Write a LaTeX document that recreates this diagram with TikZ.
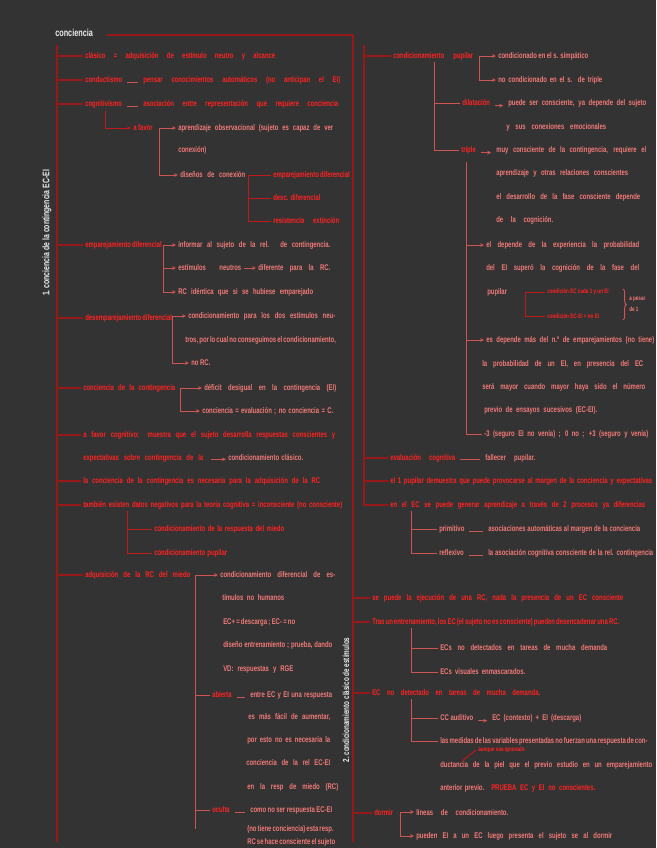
\documentclass[tikz,border=0pt]{standalone}
\usepackage{fontspec}
\usepackage{xcolor}
\usepackage{tikz}
\usetikzlibrary{calc,arrows.meta,positioning,decorations.pathreplacing}
\newfontfamily\handfont[FakeStretch=0.72]{Liberation Sans}
\definecolor{bgx}{HTML}{333333}
\definecolor{darkx}{HTML}{961818}
\definecolor{redx}{HTML}{FF2222}
\definecolor{pinkx}{HTML}{F27A78}
\definecolor{twigx}{HTML}{CC5452}
\definecolor{whitex}{HTML}{EEEEEE}
\newlength\px
\setlength\px{0.75pt}
\newcommand\fillw[2]{\makebox[#1\px][s]{#2}}
\tikzset{
  hd/.style={anchor=west,inner sep=1.5pt,font=\handfont\bfseries\fontsize{6.2}{7}\selectfont,text=redx},
  sb/.style={hd,text=pinkx},
  tl/.style={hd,text=whitex},
  tiny/.style={font=\handfont\bfseries\fontsize{4.8}{5}\selectfont},
  trunk/.style={darkx,line width=1pt},
  stem/.style={redx!75!black,line width=0.7pt},
  twig/.style={twigx,line width=0.7pt},
  ar/.style={-{Stealth[length=1.1mm,width=1mm]}},
  uline/.style={twig,shorten <=2pt,shorten >=2pt}
}
\begin{document}
\begin{tikzpicture}[x=0.75pt,y=-0.75pt]
\useasboundingbox (0,0) rectangle (656,848);
\fill[bgx] (0,0) rectangle (656,848);

\coordinate (tl) at (107,35);
\coordinate (dtop) at (353,35);
\coordinate (dbot) at (353,842);
\coordinate (ltop) at (57,45);
\coordinate (lbot) at (57,842);
\coordinate (rtop) at (364,45);
\node[tl,font=\handfont\bfseries\fontsize{7.6}{8}\selectfont] (title) at (53,33) {conciencia};
\node[tl,rotate=90,anchor=center,font=\handfont\bfseries\fontsize{7.2}{8}\selectfont] (vt1) at (47,233) {1.\ conciencia de la contingencia EC-EI};
\node[tl,rotate=90,anchor=center,font=\handfont\bfseries\fontsize{6.6}{8}\selectfont] (vt2) at (346,700) {2.\ condicionamiento clásico de estímulos};
\draw[trunk] (tl) -| (dbot);
\draw[trunk] (ltop) -- (lbot);

\node[hd] (clas) at (83,56) {\fillw{190}{clásico = adquisición de estímulo neutro y alcance}};
\node[hd] (cond) at (83,80) {conductismo};
\node[hd] (condT) at (141,80) {\fillw{197}{pensar conocimientos automáticos (no anticipan el EI)}};
\node[hd] (cogn) at (83,104) {cognitivismo};
\node[hd] (cognT) at (141,104) {\fillw{195}{asociación entre representación que requiere conciencia}};
\node[hd] (favor) at (131,128) {a favor};
\node[sb] (obs1) at (176,128) {\fillw{155}{aprendizaje observacional (sujeto es capaz de ver}};
\node[sb] (obs2) at (176,150) {conexión)};
\node[sb] (dise) at (178,175) {\fillw{65}{diseños de conexión}};
\node[hd] (dif) at (271,175) {\fillw{75}{emparejamiento diferencial}};
\node[hd] (desc) at (271,198) {\fillw{47}{desc. diferencial}};
\node[hd] (resi) at (271,221) {\fillw{66}{resistencia extinción}};
\coordinate (cg) at (105,111);
\draw[uline] ([yshift=-2pt]cond.east) -- ([yshift=-2pt]condT.west);
\draw[uline] ([yshift=-2pt]cogn.east) -- ([yshift=-2pt]cognT.west);
\draw[stem,ar] (cg) |- (favor.west);
\draw[twig,ar] ([xshift=3pt]favor.east) -- (obs1.west);
\draw[twig,ar] ([xshift=3pt]favor.east) |- (dise.west);
\foreach \n in {dif,desc,resi}
  \draw[stem] ([xshift=1pt]dise.east) |- (\n.west);

\node[hd] (emp) at (83,245) {\fillw{73}{emparejamiento diferencial}};
\node[sb] (empA) at (176,245) {\fillw{152}{informar al sujeto de la rel. de contingencia.}};
\node[sb] (empB) at (176,268) {\fillw{63}{estímulos neutros}};
\node[sb] (empC) at (256,268) {\fillw{72}{diferente para la RC.}};
\node[sb] (empD) at (176,292) {\fillw{135}{RC idéntica que si se hubiese emparejado}};
\foreach \n in {empA,empB,empD}
  \draw[twig,ar] ([xshift=2pt]emp.east) |- (\n.west);
\draw[twig,ar] (empB.east) -- (empC.west);

\node[hd] (desemp) at (83,318) {\fillw{80}{desemparejamiento diferencial}};
\node[sb] (dsA) at (186,316) {\fillw{147}{condicionamiento para los dos estímulos neu-}};
\node[sb] (dsB) at (183,340) {\fillw{148}{tros, por lo cual no conseguimos el condicionamiento,}};
\node[sb] (dsC) at (189,363) {no RC.};
\foreach \n in {dsA,dsC}
  \draw[twig,ar] ([xshift=3.5pt]desemp.east) |- (\n.west);

\node[hd] (cc) at (81,388) {\fillw{92}{conciencia de la contingencia}};
\node[sb] (ccA) at (202,388) {\fillw{132}{déficit desigual en la contingencia (EI)}};
\node[sb] (ccB) at (200,411) {\fillw{131}{conciencia = evaluación ; no conciencia = C.}};
\foreach \n in {ccA,ccB}
  \draw[twig,ar] ([xshift=2pt]cc.east) |- (\n.west);

\node[hd] (fav2) at (81,435) {\fillw{252}{a favor cognitivo: muestra que el sujeto desarrolla respuestas conscientes y}};
\node[hd] (fav2b) at (81,458) {\fillw{120}{expectativas sobre contingencia de la}};
\node[sb] (fav2c) at (226,458) {\fillw{75}{condicionamiento clásico.}};
\draw[twig,ar] ([xshift=4pt,yshift=-1pt]fav2b.east) -- ([yshift=-1pt]fav2c.west);
\node[hd] (nec) at (81,481) {\fillw{237}{la conciencia de la contingencia es necesaria para la adquisición de la RC}};
\node[hd] (tamb) at (81,505) {\fillw{259}{también existen datos negativos para la teoría cognitiva = inconsciente (no consciente)}};
\coordinate (tb) at (127,511);
\node[hd] (tmA) at (152,529) {\fillw{130}{condicionamiento de la respuesta del miedo}};
\node[hd] (tmB) at (152,553) {\fillw{73}{condicionamiento pupilar}};
\foreach \n in {tmA,tmB}
  \draw[stem] (tb) |- (\n.west);

\node[hd] (adq) at (83,575) {\fillw{105}{adquisición de la RC del miedo}};
\node[sb] (aq1) at (218,575) {\fillw{115}{condicionamiento diferencial de es-}};
\node[sb] (aq2) at (220,598) {\fillw{62}{tímulos no humanos}};
\node[sb] (aq3) at (221,622) {\fillw{72}{EC+ = descarga ; EC- = no}};
\node[sb] (aq4) at (221,645) {\fillw{109}{diseño entrenamiento ; prueba, dando}};
\node[sb] (aq5) at (221,669) {\fillw{70}{VD: respuestas y RGE}};
\node[hd] (abi) at (210,695) {abierta};
\node[sb] (abiT) at (248,695) {\fillw{82}{entre EC y EI una respuesta}};
\node[sb] (ab2) at (246,717) {\fillw{82}{es más fácil de aumentar,}};
\node[sb] (ab3) at (245,740) {\fillw{83}{por esto no es necesaria la}};
\node[sb] (ab4) at (244,763) {\fillw{84}{conciencia de la rel EC-EI}};
\node[sb] (ab5) at (245,787) {\fillw{91}{en la resp de miedo (RC)}};
\node[hd] (ocu) at (210,810) {oculta};
\node[sb] (ocuT) at (248,810) {\fillw{82}{como no ser respuesta EC-EI}};
\node[sb] (oc2) at (245,829) {\fillw{86}{(no tiene conciencia) esta resp.}};
\node[sb] (oc3) at (245,842) {\fillw{86}{RC se hace consciente el sujeto}};
\draw[twig,ar] ([xshift=2pt]adq.east) |- (aq1.west);
\draw[twig] ([xshift=2pt]adq.east) |- (abi.west);
\draw[twig] ([xshift=2pt]adq.east) |- (ocu.west);
\draw[twig] ([xshift=2pt]adq.east) -- ([xshift=2pt]adq.east |- oc2.west);
\draw[uline] ([yshift=-2pt]abi.east) -- ([yshift=-2pt]abiT.west);
\draw[uline] ([yshift=-2pt]ocu.east) -- ([yshift=-2pt]ocuT.west);

\foreach \n in {clas,cond,cogn,emp,desemp,cc,fav2,nec,tamb,adq}
  \draw[trunk] (ltop) |- (\n.west);

\node[hd] (pup) at (391,56) {\fillw{80}{condicionamiento pupilar}};
\node[sb] (puA) at (496,56) {\fillw{90}{condicionado en el s. simpático}};
\node[sb] (puB) at (496,80) {\fillw{104}{no condicionado en el s. de triple}};
\foreach \n in {puA,puB}
  \draw[twig,ar] ([xshift=3pt]pup.east) |- (\n.west);
\coordinate (pv) at (434,62);
\node[hd] (dil) at (460,103) {dilatación};
\node[sb] (dilT) at (506,103) {\fillw{138}{puede ser consciente, ya depende del sujeto}};
\node[sb] (dil2) at (504,127) {\fillw{100}{y sus conexiones emocionales}};
\node[hd] (tri) at (459,150) {triple};
\node[sb] (triT) at (494,150) {\fillw{150}{muy consciente de la contingencia, requiere el}};
\node[sb] (tr2) at (494,173) {\fillw{132}{aprendizaje y otras relaciones conscientes}};
\node[sb] (tr3) at (494,197) {\fillw{144}{el desarrollo de la fase consciente depende}};
\node[sb] (tr4) at (494,220) {\fillw{57}{de la cognición.}};
\draw[twig] (pv) |- (dil.west);
\draw[twig] (pv) |- (tri.west);
\draw[uline,ar] ([yshift=-2pt]dil.east) -- ([yshift=-2pt]dilT.west);
\draw[uline,ar] ([yshift=-2pt]tri.east) -- ([yshift=-2pt]triT.west);

\coordinate (tv) at (466,162);
\node[sb] (dp1) at (484,245) {\fillw{153}{el depende de la experiencia la probabilidad}};
\node[sb] (dp2) at (484,268) {\fillw{153}{del EI superó la cognición de la fase del}};
\node[sb] (dp3) at (485,292) {pupilar};
\coordinate (bv) at (525,293);
\node[hd,tiny] (bx1) at (545,292) {condición EC cada 1 y un EI};
\node[hd,tiny] (bx2) at (545,316) {condición EC-EI = no EI};
\draw[stem] (bv) |- (bx1.west);
\draw[stem] (bv) |- (bx2.west);
\coordinate (brA) at (623,289);
\coordinate (brB) at (623,320);
\draw[twig,decorate,decoration={brace,amplitude=2.5pt}] (brA) -- (brB);
\node[sb,tiny] (pes1) at (627,299) {a pesar};
\node[sb,tiny] (pes2) at (627,309) {de 1};
\node[sb] (de1) at (484,340) {\fillw{168}{es depende más del n.º de emparejamientos (no tiene)}};
\node[sb] (de2) at (480,364) {\fillw{161}{la probabilidad de un EI, en presencia del EC}};
\node[sb] (de3) at (480,387) {\fillw{163}{será mayor cuando mayor haya sido el número}};
\node[sb] (de4) at (482,410) {\fillw{113}{previo de ensayos sucesivos (EC-EI).}};
\node[sb] (de5) at (482,434) {\fillw{164}{-3 (seguro EI no venía) ; 0 no ; +3 (seguro y venía)}};
\draw[twig,ar] (tv) |- (dp1.west);
\draw[twig,ar] (tv) |- (de1.west);
\draw[twig] (tv) |- (de5.west);

\node[hd] (eval) at (388,458) {\fillw{65}{evaluación cognitiva}};
\node[sb] (evT) at (483,458) {\fillw{50}{fallecer pupilar.}};
\draw[uline] ([yshift=-1pt]eval.east) -- ([yshift=-1pt]evT.west);
\node[hd] (uno) at (388,481) {\fillw{262}{el 1 pupilar demuestra que puede provocarse al margen de la conciencia y expectativas}};
\node[hd] (gen) at (388,505) {\fillw{255}{en el EC se puede generar aprendizaje a través de 2 procesos ya diferencias}};
\coordinate (gv) at (411,511);
\node[sb] (pri) at (437,529) {primitivo};
\node[sb] (priT) at (486,529) {\fillw{152}{asociaciones automáticas al margen de la conciencia}};
\node[sb] (ref) at (437,553) {reflexivo};
\node[sb] (refT) at (486,553) {\fillw{165}{la asociación cognitiva consciente de la rel. contingencia}};
\draw[twig] (gv) |- (pri.west);
\draw[twig] (gv) |- (ref.west);
\draw[uline] ([yshift=-2pt]pri.east) -- ([yshift=-2pt]priT.west);
\draw[uline] ([yshift=-2pt]ref.east) -- ([yshift=-2pt]refT.west);

\foreach \n in {pup,eval,uno,gen}
  \draw[trunk] (rtop) |- (\n.west);

\node[hd] (s1) at (370,598) {\fillw{251}{se puede la ejecución de una RC, nada la presencia de un EC consciente}};
\node[hd] (s2) at (370,622) {\fillw{247}{Tras un entrenamiento, los EC (el sujeto no es consciente) pueden desencadenar una RC.}};
\coordinate (s2v) at (411,628);
\node[sb] (s2a) at (438,648) {\fillw{167}{ECs no detectados en tareas de mucha demanda}};
\node[sb] (s2b) at (438,672) {\fillw{85}{ECs visuales enmascarados.}};
\draw[twig] (s2v) |- (s2a.west);
\draw[twig] (s2v) |- (s2b.west);
\node[hd] (s3) at (370,693) {\fillw{168}{EC no detectado en tareas de mucha demanda.}};
\coordinate (s3v) at (411,699);
\node[sb] (s3a) at (438,718) {CC auditivo};
\node[sb] (s3aT) at (490,718) {\fillw{89}{EC (contexto) + EI (descarga)}};
\node[sb] (s3b) at (438,741) {\fillw{205}{las medidas de las variables presentadas no fuerzan una respuesta de con-}};
\node[hd,tiny] (nota) at (476,750) {aunque sea ignorado};
\coordinate (na) at (462,761);
\node[sb] (s3c) at (438,765) {\fillw{212}{ductancia de la piel que el previo estudio en un emparejamiento}};
\node[sb] (s3d) at (438,788) {\fillw{44}{anterior previo.}};
\node[hd] (s3e) at (489,788) {\fillw{104}{PRUEBA EC y EI no conscientes.}};
\draw[twig] (s3v) |- (s3a.west);
\draw[twig] (s3v) |- (s3b.west);
\draw[uline,ar] ([yshift=-2pt]s3a.east) -- ([yshift=-2pt]s3aT.west);
\draw[stem] (na) -- (nota.west);
\node[hd] (dor) at (372,813) {dormir};
\node[sb] (do1) at (414,812) {\fillw{92}{líneas de condicionamiento.}};
\node[sb] (do2) at (414,836) {\fillw{196}{pueden EI a un EC luego presenta el sujeto se al dormir}};
\foreach \n in {do1,do2}
  \draw[twig,ar] ([xshift=4pt]dor.east) |- (\n.west);

\foreach \n in {s1,s2,s3,dor}
  \draw[trunk] (dtop) |- (\n.west);
\end{tikzpicture}
\end{document}
